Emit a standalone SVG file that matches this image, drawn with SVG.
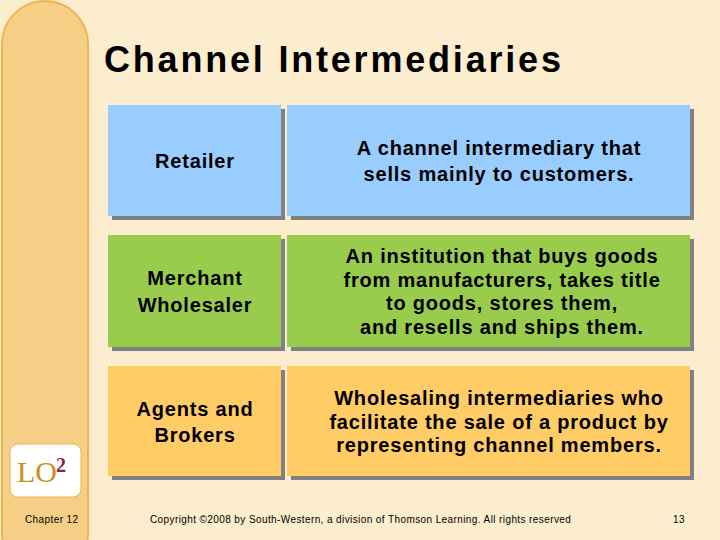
<svg xmlns="http://www.w3.org/2000/svg" width="720" height="540" viewBox="0 0 720 540">
<style>
.t{font-family:"Liberation Sans",Arial,sans-serif;font-size:20px;font-weight:bold;letter-spacing:0.8px;fill:#000;text-anchor:middle}
.sh{fill:#808080}
.s{font-family:"Liberation Sans",Arial,sans-serif;font-size:10px;letter-spacing:0.4px;fill:#000}
</style>
<rect width="720" height="540" fill="#FCEDCE"/>
<rect x="2" y="1" width="86" height="575" rx="43" fill="#F6CF86" stroke="#EDB451" stroke-width="2"/>
<text x="104" y="72" font-family="Liberation Sans,Arial,sans-serif" font-size="36" font-weight="bold" letter-spacing="2.8">Channel Intermediaries</text>
<g id="retailer"><rect class="sh" x="112" y="109" width="173" height="111"/><rect x="108" y="105" width="173" height="111" fill="#99CCFF"/><text class="t" x="195" y="168">Retailer</text></g>
<g id="retailer-def"><rect class="sh" x="291" y="109" width="403" height="111"/><rect x="287" y="105" width="403" height="111" fill="#99CCFF"/><text class="t" x="499" y="155">A channel intermediary that</text><text class="t" x="499" y="181">sells mainly to customers.</text></g>
<g id="merchant"><rect class="sh" x="112" y="239" width="173" height="112"/><rect x="108" y="235" width="173" height="112" fill="#99CC4D"/><text class="t" x="195" y="285">Merchant</text><text class="t" x="195" y="312">Wholesaler</text></g>
<g id="merchant-def"><rect class="sh" x="291" y="239" width="403" height="112"/><rect x="287" y="235" width="403" height="112" fill="#99CC4D"/><text class="t" x="502" y="263">An institution that buys goods</text><text class="t" x="502" y="287">from manufacturers, takes title</text><text class="t" x="502" y="310">to goods, stores them,</text><text class="t" x="502" y="334">and resells and ships them.</text></g>
<g id="agents"><rect class="sh" x="112" y="370" width="173" height="110"/><rect x="108" y="366" width="173" height="110" fill="#FFCC66"/><text class="t" x="195" y="416">Agents and</text><text class="t" x="195" y="442">Brokers</text></g>
<g id="agents-def"><rect class="sh" x="291" y="370" width="403" height="110"/><rect x="287" y="366" width="403" height="110" fill="#FFCC66"/><text class="t" x="499" y="405">Wholesaling intermediaries who</text><text class="t" x="499" y="429">facilitate the sale of a product by</text><text class="t" x="499" y="452">representing channel members.</text></g>
<g id="lo"><rect x="10" y="444" width="71" height="53" rx="8" fill="#FFFFFF" stroke="#EDB451"/><text x="17" y="482" font-family="Liberation Serif,serif" font-size="30" fill="#C8901E">LO</text><text x="56" y="472" font-family="Liberation Serif,serif" font-size="20" font-weight="bold" fill="#8B2252">2</text></g>
<text class="s" x="25" y="523">Chapter 12</text>
<text class="s" x="150" y="523">Copyright ©2008 by South-Western, a division of Thomson Learning. All rights reserved</text>
<text class="s" x="673" y="523">13</text>
<g id="connectors"/>
</svg>
